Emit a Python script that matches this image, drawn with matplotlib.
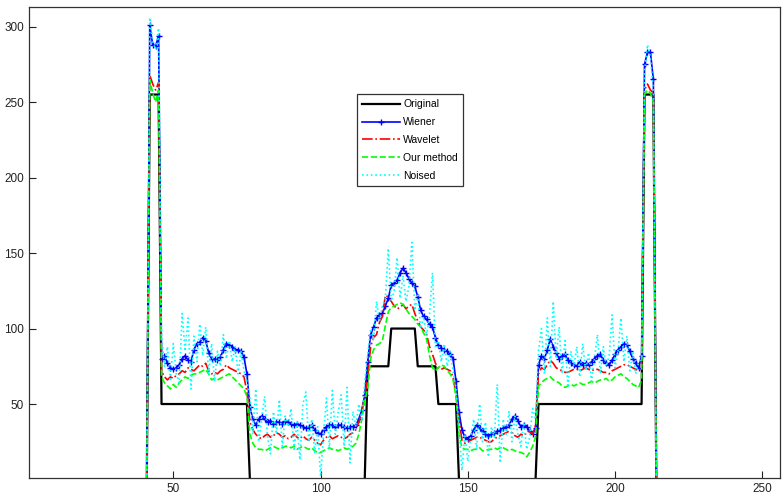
import numpy as np
import matplotlib
matplotlib.use("Agg")
import matplotlib.pyplot as plt

# Original step signal, levels and how many samples each level lasts (x = 1..256)
orig_levels = [0, 255, 50, 0, 75, 100, 75, 50, 0, 50, 255, 0]
orig_lengths = [41, 4, 30, 40, 8, 9, 7, 7, 27, 36, 4, 43]

# Restored / noised signals for x = 41..214 (zero elsewhere)
wiener = (
    [0]
    + [301, 288, 287, 294]
    + [80, 82, 77, 74, 73, 74, 76, 80, 82, 79, 78, 86, 90, 91, 94,
       92, 84, 80, 80, 79, 81, 86, 90, 89, 88, 86, 86, 85, 81, 70]
    + [48, 40, 36, 40, 42, 40, 38, 39, 37, 38, 38, 37, 39, 38, 37, 36, 37, 36, 35, 34,
       35, 36, 33, 31, 30, 33, 35, 36, 36, 35, 36, 36, 35, 34, 35, 35, 36, 40, 46, 56]
    + [78, 96, 101, 107, 109, 110, 115, 120, 129, 130, 132, 137, 140, 137, 133, 130,
       128, 121, 112, 108, 106, 103, 101, 94, 89, 87, 86, 85, 83, 80, 65]
    + [45, 33, 28, 27, 29, 33, 36, 34, 32, 30, 29, 30, 31, 32, 33, 34, 35, 36, 40, 42,
       39, 35, 36, 35, 32, 30, 34]
    + [76, 82, 80, 86, 93, 88, 84, 80, 82, 83, 79, 77, 76, 75, 78, 76, 77, 76, 78, 80,
       82, 83, 79, 77, 76, 79, 83, 86, 88, 90, 89, 85, 80, 77, 74, 82]
    + [275, 283, 283, 265]
    + [0]
)

wavelet = (
    [0]
    + [268, 262, 258, 263]
    + [72, 68, 66, 68, 67, 69, 70, 72, 71, 74, 73, 72, 74, 76, 75,
       77, 72, 70, 71, 70, 72, 73, 76, 74, 73, 72, 71, 70, 68, 58]
    + [38, 33, 30, 28, 27, 29, 30, 28, 29, 31, 30, 28, 29, 27, 28, 30, 28, 27, 29, 27,
       26, 28, 26, 24, 23, 26, 28, 29, 27, 28, 29, 28, 27, 28, 30, 31, 33, 38, 45, 55]
    + [68, 88, 94, 96, 104, 108, 122, 121, 118, 115, 113, 114, 116, 113, 115, 116,
       110, 105, 101, 99, 96, 88, 83, 77, 74, 73, 74, 73, 72, 68, 56]
    + [40, 26, 24, 25, 26, 27, 28, 28, 27, 26, 25, 25, 27, 28, 29, 30, 31, 32, 31, 29,
       28, 30, 29, 31, 32, 30, 36]
    + [70, 74, 73, 76, 79, 77, 74, 73, 72, 71, 71, 72, 73, 73, 72, 73, 74, 73, 72, 73,
       73, 72, 71, 71, 70, 72, 73, 74, 75, 76, 76, 75, 74, 73, 72, 74]
    + [258, 262, 258, 256]
    + [0]
)

our_method = (
    [0]
    + [265, 256, 250, 258]
    + [68, 64, 62, 60, 63, 61, 64, 66, 68, 67, 69, 70, 70, 71, 72,
       73, 70, 66, 67, 66, 67, 68, 69, 70, 68, 66, 64, 62, 60, 55]
    + [30, 24, 21, 20, 20, 19, 20, 21, 22, 21, 20, 21, 22, 22, 21, 22, 20, 21, 22, 21,
       20, 21, 19, 18, 18, 19, 20, 21, 20, 20, 19, 20, 21, 20, 21, 22, 24, 30, 40, 52]
    + [60, 80, 86, 89, 90, 92, 102, 111, 114, 115, 116, 117, 116, 113, 110, 108,
       106, 103, 101, 97, 93, 82, 74, 72, 74, 76, 75, 72, 70, 66, 55]
    + [30, 21, 20, 20, 19, 20, 20, 21, 19, 19, 20, 20, 21, 20, 21, 21, 20, 19, 20, 19,
       18, 18, 17, 15, 18, 22, 28]
    + [62, 64, 66, 67, 68, 66, 65, 64, 62, 61, 62, 63, 62, 63, 64, 63, 63, 64, 65, 64,
       65, 66, 66, 67, 65, 66, 68, 69, 70, 68, 67, 65, 63, 62, 61, 66]
    + [255, 258, 256, 250]
    + [0]
)

noised = (
    [0]
    + [306, 290, 285, 299]
    + [96, 75, 88, 65, 90, 70, 64, 110, 85, 107, 60, 95, 78, 103, 82,
       101, 70, 90, 65, 85, 75, 96, 80, 92, 78, 88, 70, 85, 72, 65]
    + [55, 30, 60, 25, 40, 55, 28, 17, 45, 30, 53, 22, 42, 35, 47, 20, 38, 13, 50, 58,
       25, 40, 18, 35, 2, 30, 54, 20, 59, 30, 45, 56, 22, 61, 11, 45, 35, 50, 40, 65]
    + [82, 100, 92, 118, 105, 115, 120, 153, 118, 125, 147, 120, 135, 118, 128, 157,
       112, 122, 100, 108, 95, 110, 137, 88, 92, 78, 90, 75, 85, 72, 60]
    + [35, 6, 30, 12, 28, 40, 20, 50, 25, 38, 15, 35, 28, 63, 11, 40, 30, 45, 25, 42,
       30, 22, 38, 20, 28, 47, 40]
    + [85, 100, 70, 107, 75, 118, 80, 101, 70, 92, 61, 85, 75, 88, 68, 90, 72, 84, 65, 80,
       96, 70, 88, 75, 82, 109, 74, 85, 107, 78, 95, 72, 85, 70, 78, 80]
    + [270, 288, 280, 258]
    + [0]
)

x_orig = np.arange(1, 257)
original = np.repeat(orig_levels, orig_lengths)
x = np.arange(41, 41 + len(wiener))

plt.rcParams['font.family'] = ['Liberation Sans', 'DejaVu Sans']

fig = plt.figure(figsize=(7.84, 4.98), dpi=100)
ax = fig.add_axes([29 / 784, 20 / 498, 751 / 784, 471 / 498])

ax.plot(x_orig, original, color='k', linestyle='-', linewidth=1.6, label='Original')
ax.plot(x, wiener, color='b', linestyle='-', linewidth=1.2, marker='+',
        markersize=5, markeredgewidth=1.0, label='Wiener')
ax.plot(x, wavelet, color='r', linestyle='-.', linewidth=1.2, label='Wavelet')
ax.plot(x, our_method, color=(0, 1, 0), linestyle='--', linewidth=1.2, label='Our method')
ax.plot(x, noised, color=(0, 1, 1), linestyle=':', linewidth=1.2, label='Noised')

ax.set_xlim(1, 256)
ax.set_ylim(1, 313)
ax.set_xticks([50, 100, 150, 200, 250])
ax.set_yticks([50, 100, 150, 200, 250, 300])
ax.tick_params(direction='in', length=5, width=0.8, labelsize=8.5, colors='#222222')
for s in ax.spines.values():
    s.set_linewidth(0.9)
    s.set_color('#333333')

leg = ax.legend(loc='upper left', bbox_to_anchor=(0.437, 0.815), fontsize=7.5,
                fancybox=False, framealpha=1, edgecolor='#333333',
                handlelength=3.6, handletextpad=0.3, borderpad=0.5,
                labelspacing=0.75, borderaxespad=0)
leg.get_frame().set_linewidth(0.9)

fig.savefig('out.png', dpi=100)
